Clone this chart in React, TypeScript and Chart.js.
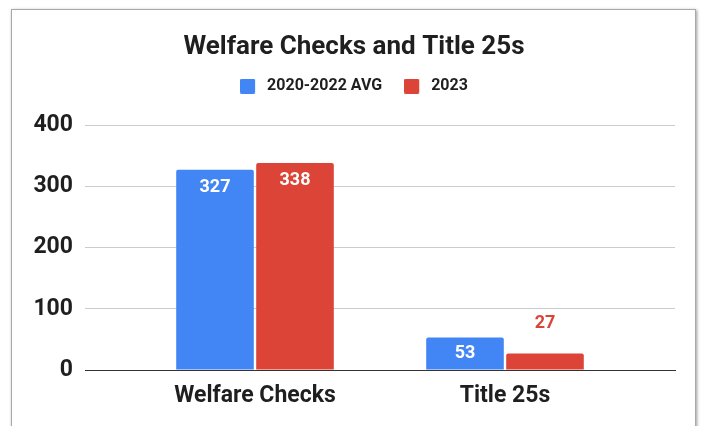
import React, { useEffect, useRef } from 'react';
import { Chart, registerables } from 'chart.js';

Chart.register(...registerables);

// ---- data ----
const categories = ['Welfare Checks', 'Title 25s'];
const seriesNames = ['2020-2022 AVG', '2023'];
const avgValues = [327, 53];
const values2023 = [338, 27];
const yTickValues = [0, 100, 200, 300, 400];

// ---- styles ----
const BLUE = '#4285F4';
const RED = '#DB4437';
const TEXT = '#1f1f1f';
const FONT = 'Roboto, "Noto Sans", "DejaVu Sans", sans-serif';

function legendSwatch(color: string): HTMLCanvasElement {
  const c = document.createElement('canvas');
  c.width = 19;
  c.height = 15;
  const ctx = c.getContext('2d')!;
  ctx.fillStyle = color;
  ctx.beginPath();
  if ((ctx as any).roundRect) (ctx as any).roundRect(0, 0, 15, 15, 1.5);
  else ctx.rect(0, 0, 15, 15);
  ctx.fill();
  return c;
}

const barValueLabels = {
  id: 'barValueLabels',
  afterDatasetsDraw(chart: any) {
    const ctx = chart.ctx;
    ctx.save();
    ctx.font = `bold 18px ${FONT}`;
    ctx.textAlign = 'center';
    ctx.textBaseline = 'middle';
    chart.data.datasets.forEach((ds: any, di: number) => {
      const meta = chart.getDatasetMeta(di);
      meta.data.forEach((el: any, i: number) => {
        const { x, y, base } = el.getProps(['x', 'y', 'base'], true);
        const h = base - y;
        const text = String(ds.data[i]);
        if (h >= 26) {
          ctx.fillStyle = '#ffffff';
          ctx.fillText(text, x, y + Math.min(18, h / 2));
        } else {
          ctx.fillStyle = ds.backgroundColor;
          ctx.fillText(text, x, y - 30);
        }
      });
    });
    ctx.restore();
  },
};

export default function App() {
  const canvasRef = useRef<HTMLCanvasElement | null>(null);

  useEffect(() => {
    if (!canvasRef.current) return;
    const swatches = [legendSwatch(BLUE), legendSwatch(RED)];
    const defaultGen = (Chart.defaults as any).plugins.legend.labels.generateLabels;
    const chart = new Chart(canvasRef.current, {
      type: 'bar',
      data: {
        labels: categories.map((_, i) => i),
        datasets: [
          {
            label: seriesNames[0],
            data: avgValues,
            backgroundColor: BLUE,
            borderRadius: 2,
            categoryPercentage: 0.64,
            barPercentage: 0.97,
            xAxisID: 'x',
            yAxisID: 'y',
          },
          {
            label: seriesNames[1],
            data: values2023,
            backgroundColor: RED,
            borderRadius: 2,
            categoryPercentage: 0.64,
            barPercentage: 0.97,
            xAxisID: 'x',
            yAxisID: 'y',
          },
        ],
      },
      options: {
        responsive: false,
        maintainAspectRatio: false,
        animation: false,
        events: [],
        layout: { padding: { left: 33, right: 27, top: 0, bottom: 0 } },
        plugins: {
          tooltip: { enabled: false },
          title: {
            display: true,
            text: 'Welfare Checks and Title 25s',
            color: TEXT,
            font: { family: FONT, size: 26, weight: 'bold', lineHeight: 1 },
            padding: { top: 34, bottom: -4 },
          },
          legend: {
            display: true,
            position: 'top',
            labels: {
              usePointStyle: true,
              pointStyleWidth: 19,
              padding: 22,
              color: TEXT,
              font: { family: FONT, size: 16, weight: 'bold' },
              generateLabels: (c: any) =>
                defaultGen(c).map((item: any) => ({
                  ...item,
                  pointStyle: swatches[item.datasetIndex],
                })),
            },
          },
        },
        scales: {
          x: {
            type: 'linear',
            position: 'bottom',
            offset: false,
            min: -0.68,
            max: 1.68,
            afterBuildTicks: (s: any) => {
              s.ticks = categories.map((_, i) => ({ value: i }));
            },
            grid: { display: false, drawTicks: false, offset: false },
            border: { display: true, color: '#333333', width: 1, z: 1 },
            ticks: {
              autoSkip: false,
              maxRotation: 0,
              padding: 12,
              color: TEXT,
              font: { family: FONT, size: 23, weight: 'bold' },
              callback: (v: any) => categories[v] ?? '',
            },
            afterFit: (s: any) => {
              s.height = 56;
            },
          },
          y: {
            type: 'linear',
            position: 'left',
            min: yTickValues[0],
            max: yTickValues[yTickValues.length - 1],
            afterBuildTicks: (s: any) => {
              s.ticks = yTickValues.map((v) => ({ value: v }));
            },
            grid: {
              drawTicks: false,
              color: (c: any) => (c.tick && c.tick.value === 0 ? '#333333' : '#cccccc'),
            },
            border: { display: false },
            ticks: {
              padding: 12,
              color: TEXT,
              font: { family: FONT, size: 23, weight: 'bold' },
            },
            afterFit: (s: any) => {
              s.width = 52;
            },
          },
          spacer: {
            type: 'linear',
            position: 'top',
            display: true,
            grid: { display: false, drawTicks: false },
            border: { display: false },
            ticks: { display: false },
            afterFit: (s: any) => {
              s.height = 21;
            },
          },
        },
      } as any,
      plugins: [barValueLabels as any],
    });
    return () => chart.destroy();
  }, []);

  return (
    <div
      style={{
        position: 'absolute',
        left: 0,
        top: 0,
        width: 702,
        height: 426,
        overflow: 'hidden',
        background: '#ffffff',
      }}
    >
      <div
        style={{
          position: 'absolute',
          left: 11,
          top: 9,
          width: 683,
          height: 470,
          border: '1px solid #a8a8a8',
          boxShadow: '1px 1px 3px rgba(0,0,0,0.4)',
          background: '#ffffff',
        }}
      />
      <canvas
        ref={canvasRef}
        width={702}
        height={426}
        style={{ position: 'absolute', left: 0, top: 0, width: 702, height: 426 }}
      />
    </div>
  );
}
